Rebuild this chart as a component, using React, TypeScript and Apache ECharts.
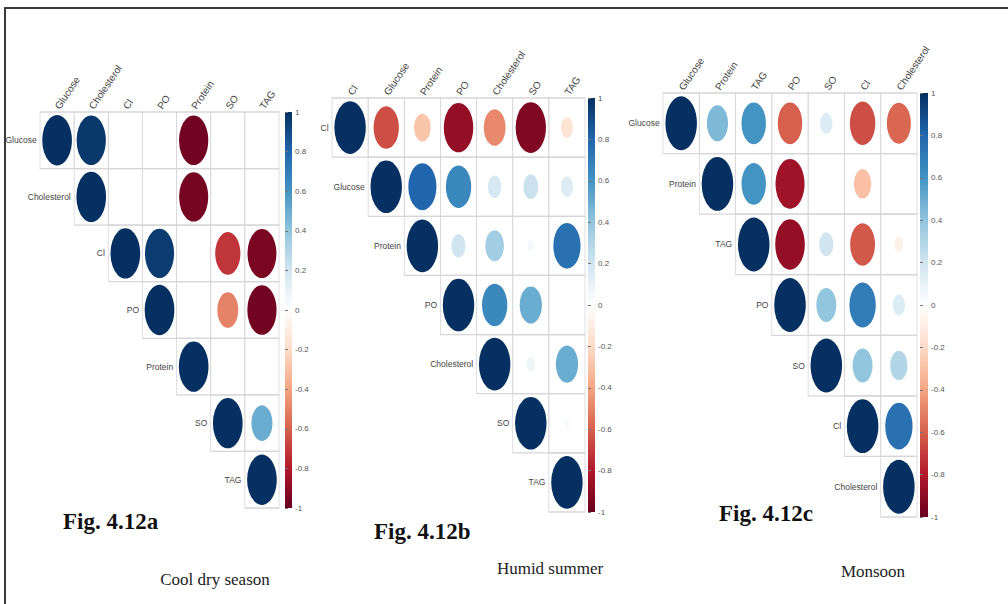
import React, { useEffect, useRef } from "react";
import * as echarts from "echarts";

// ---- Data ----
const varsA = ["Glucose", "Cholesterol", "Cl", "PO", "Protein", "SO", "TAG"];
const corrA: number[][] = [
  [1, 0.97, 0, 0, -0.97, 0, 0],
  [1, 0, 0, -0.96, 0, 0],
  [1, 0.96, 0, -0.72, -0.95],
  [1, 0, -0.5, -0.97],
  [1, 0, 0],
  [1, 0.5],
  [1],
];

const varsB = ["Cl", "Glucose", "Protein", "PO", "Cholesterol", "SO", "TAG"];
const corrB: number[][] = [
  [1, -0.65, -0.28, -0.88, -0.48, -0.93, -0.15],
  [1, 0.8, 0.65, 0.18, 0.22, 0.15],
  [1, 0.2, 0.35, 0.05, 0.75],
  [1, 0.65, 0.5, 0],
  [1, 0.08, 0.5],
  [1, 0.03],
  [1],
];

const varsC = ["Glucose", "Protein", "TAG", "PO", "SO", "Cl", "Cholesterol"];
const corrC: number[][] = [
  [1, 0.45, 0.6, -0.6, 0.15, -0.65, -0.58],
  [1, 0.6, -0.85, 0, -0.3, 0],
  [1, -0.88, 0.2, -0.62, -0.08],
  [1, 0.4, 0.7, 0.15],
  [1, 0.4, 0.3],
  [1, 0.75],
  [1],
];

const figLabels = ["Fig. 4.12a", "Fig. 4.12b", "Fig. 4.12c"];
const seasonLabels = ["Cool dry season", "Humid summer", "Monsoon"];

const RDBU = [
  "#67001F", "#B2182B", "#D6604D", "#F4A582", "#FDDBC7", "#FFFFFF",
  "#D1E5F0", "#92C5DE", "#4393C3", "#2166AC", "#053061",
];

// ---- Layout ----
const PANELS = [
  { left: 40, top: 112, width: 239, height: 396, barLeft: 285, barW: 7 },
  { left: 332, top: 98, width: 253, height: 414, barLeft: 588, barW: 7 },
  { left: 663, top: 93, width: 254, height: 424, barLeft: 920, barW: 8 },
];
const FIG_POS = [
  { x: 63, y: 521 },
  { x: 374, y: 531 },
  { x: 719, y: 513 },
];
const SEASON_POS = [
  { x: 215, y: 579 },
  { x: 550, y: 568 },
  { x: 873, y: 571 },
];

const SANS = "'Liberation Sans Narrow', 'Liberation Sans', Arial, sans-serif";
const SERIF = "'Liberation Serif', 'Times New Roman', serif";

function buildOption() {
  const sets = [
    { vars: varsA, corr: corrA },
    { vars: varsB, corr: corrB },
    { vars: varsC, corr: corrC },
  ];
  const grid: any[] = [];
  const xAxis: any[] = [];
  const yAxis: any[] = [];
  const series: any[] = [];
  const circleIdx: number[] = [];

  sets.forEach((s, p) => {
    const g = PANELS[p];
    const n = s.vars.length;
    const cw = g.width / n;
    const ch = g.height / n;
    grid.push({ left: g.left, top: g.top, width: g.width, height: g.height });
    xAxis.push({
      type: "category",
      gridIndex: p,
      data: s.vars,
      position: "top",
      axisLine: { show: false },
      axisTick: { show: false },
      splitLine: { show: false },
      axisLabel: {
        rotate: -56,
        margin: 4,
        fontSize: 10,
        color: "#444",
        fontFamily: SANS,
        interval: 0,
      },
    });
    yAxis.push({
      type: "category",
      gridIndex: p,
      data: s.vars,
      inverse: true,
      axisLine: { show: false },
      axisTick: { show: false },
      axisLabel: { show: false },
      splitLine: { show: false },
    });
    const cells: any[] = [];
    const circles: any[] = [];
    s.corr.forEach((row, i) => {
      row.forEach((r, k) => {
        const j = i + k;
        cells.push(
          j === i
            ? {
                value: [j, i],
                label: {
                  show: true,
                  position: "left",
                  distance: 3,
                  formatter: s.vars[i],
                  fontSize: 8.5,
                  color: "#444",
                  fontFamily: SANS,
                },
              }
            : { value: [j, i] }
        );
        circles.push([j, i, r]);
      });
    });
    series.push({
      type: "scatter",
      xAxisIndex: p,
      yAxisIndex: p,
      symbol: "rect",
      symbolSize: [cw, ch],
      silent: true,
      z: 1,
      itemStyle: { color: "rgba(255,255,255,0)", borderColor: "#d6d6d6", borderWidth: 1, opacity: 1 },
      data: cells,
    });
    circleIdx.push(series.length);
    series.push({
      type: "scatter",
      xAxisIndex: p,
      yAxisIndex: p,
      symbol: "circle",
      silent: true,
      z: 2,
      itemStyle: { opacity: 1 },
      symbolSize: (val: number[]) => {
        const f = Math.sqrt(Math.abs(val[2]));
        return [cw * 0.87 * f, ch * 0.89 * f];
      },
      data: circles,
    });
  });

  // colour bars
  PANELS.forEach((g, p) => {
    const gi = 3 + p;
    grid.push({
      left: g.barLeft,
      top: g.top,
      width: g.barW,
      height: g.height,
      show: true,
      borderWidth: 0,
      backgroundColor: new echarts.graphic.LinearGradient(
        0, 0, 0, 1,
        RDBU.slice().reverse().map((c, i) => ({ offset: i / (RDBU.length - 1), color: c }))
      ),
    });
    xAxis.push({ type: "value", gridIndex: gi, show: false, min: 0, max: 1 });
    yAxis.push({
      type: "value",
      gridIndex: gi,
      min: -1,
      max: 1,
      interval: 0.2,
      position: "right",
      axisLine: { show: false },
      axisTick: { show: true, length: 3, lineStyle: { color: "#777" } },
      splitLine: { show: false },
      axisLabel: {
        margin: 3,
        fontSize: 8,
        color: "#555",
        fontFamily: SANS,
        formatter: (v: number) => String(Math.round(v * 10) / 10),
      },
    });
  });

  const graphic: any[] = [
    {
      type: "rect",
      shape: { x: 5, y: 8, width: 1020, height: 620 },
      style: { fill: "none", stroke: "#3a3a3a", lineWidth: 2 },
      silent: true,
    },
  ];
  figLabels.forEach((t, i) => {
    graphic.push({
      type: "text",
      x: FIG_POS[i].x,
      y: FIG_POS[i].y,
      style: {
        text: t,
        font: `bold 23px ${SERIF}`,
        fill: "#111",
        textVerticalAlign: "middle",
        verticalAlign: "middle",
      },
    });
  });
  seasonLabels.forEach((t, i) => {
    graphic.push({
      type: "text",
      x: SEASON_POS[i].x,
      y: SEASON_POS[i].y,
      style: {
        text: t,
        font: `17px ${SERIF}`,
        fill: "#222",
        textAlign: "center",
        align: "center",
        textVerticalAlign: "middle",
        verticalAlign: "middle",
      },
    });
  });

  return {
    animation: false,
    backgroundColor: "#ffffff",
    grid,
    xAxis,
    yAxis,
    visualMap: [
      {
        type: "continuous",
        show: false,
        min: -1,
        max: 1,
        dimension: 2,
        seriesIndex: circleIdx,
        inRange: { color: RDBU },
      },
    ],
    series,
    graphic,
  };
}

export default function App() {
  const ref = useRef<HTMLDivElement>(null);
  useEffect(() => {
    document.body.style.margin = "0";
    const chart = echarts.init(ref.current!, null, { renderer: "svg" });
    chart.setOption(buildOption() as any);
    return () => chart.dispose();
  }, []);
  return (
    <div
      ref={ref}
      style={{ position: "fixed", left: 0, top: 0, width: 1008, height: 604 }}
    />
  );
}
